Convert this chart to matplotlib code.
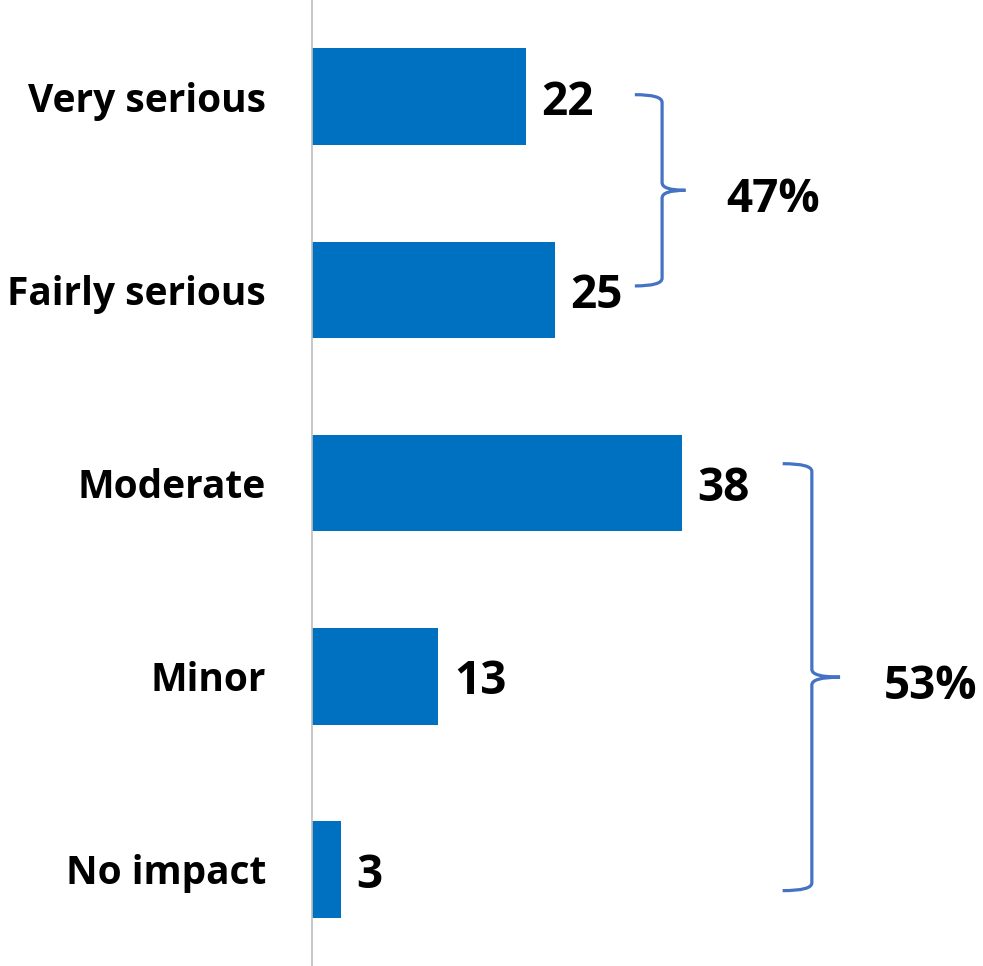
import matplotlib.pyplot as plt
from matplotlib.path import Path
from matplotlib.patches import PathPatch

# Data
categories = ['Very serious', 'Fairly serious', 'Moderate', 'Minor', 'No impact']
values = [22, 25, 38, 13, 3]
group_labels = ['47%', '53%']

bar_color = '#0070C0'
bracket_color = '#4472C4'
font = 'Open Sans'

fig = plt.figure(figsize=(9.83, 9.66), dpi=100)
ax = fig.add_axes([312 / 983, 0, 1 - 312 / 983, 1])

y = list(range(len(categories)))
ax.barh(y, values, height=0.5, color=bar_color)

ax.set_xlim(0, 69)
ax.set_ylim(len(categories) - 0.5, -0.5)

# Value labels
for yi, v in zip(y, values):
    ax.text(v + 1.6, yi + 0.03, str(v), va='center', ha='left', fontsize=33,
            fontweight='bold', family=font)

# Category labels
ax.set_yticks(y)
ax.set_yticklabels(categories, fontsize=28, fontweight='bold', family=font)
ax.tick_params(axis='y', length=0, pad=33)
ax.set_xticks([])

for s in ['top', 'right', 'bottom']:
    ax.spines[s].set_visible(False)
ax.spines['left'].set_color('#BFBFBF')
ax.spines['left'].set_linewidth(1.2)


def bracket(x_tip, x_vert, x_point, y_top, y_bot, lw=2.3):
    y_mid = (y_top + y_bot) / 2
    c = 0.04
    verts = [
        (x_tip, y_top), (x_vert, y_top), (x_vert, y_top + c),
        (x_vert, y_mid - c), (x_vert, y_mid), (x_point, y_mid),
        (x_point, y_mid), (x_vert, y_mid), (x_vert, y_mid + c),
        (x_vert, y_bot - c), (x_vert, y_bot), (x_tip, y_bot),
    ]
    codes = [
        Path.MOVETO, Path.CURVE3, Path.CURVE3,
        Path.LINETO, Path.CURVE3, Path.CURVE3,
        Path.MOVETO, Path.CURVE3, Path.CURVE3,
        Path.LINETO, Path.CURVE3, Path.CURVE3,
    ]
    patch = PathPatch(Path(verts, codes), fill=False, edgecolor=bracket_color,
                      lw=lw, clip_on=False, capstyle='butt')
    ax.add_patch(patch)
    return y_mid


# Group brackets
bracket_x = [(33.2, 36.0, 38.4), (48.4, 51.4, 54.3)]
bracket_y = [(-0.01, 0.98), (1.9, 4.11)]
text_x = [47.4, 63.6]
for (xt, xv, xp), (yt, yb), lab, tx in zip(bracket_x, bracket_y, group_labels, text_x):
    ym = bracket(xt, xv, xp, yt, yb)
    ax.text(tx, ym + 0.05, lab, ha='center', va='center', fontsize=33,
            fontweight='bold', family=font)

fig.savefig('out.png', dpi=100)
